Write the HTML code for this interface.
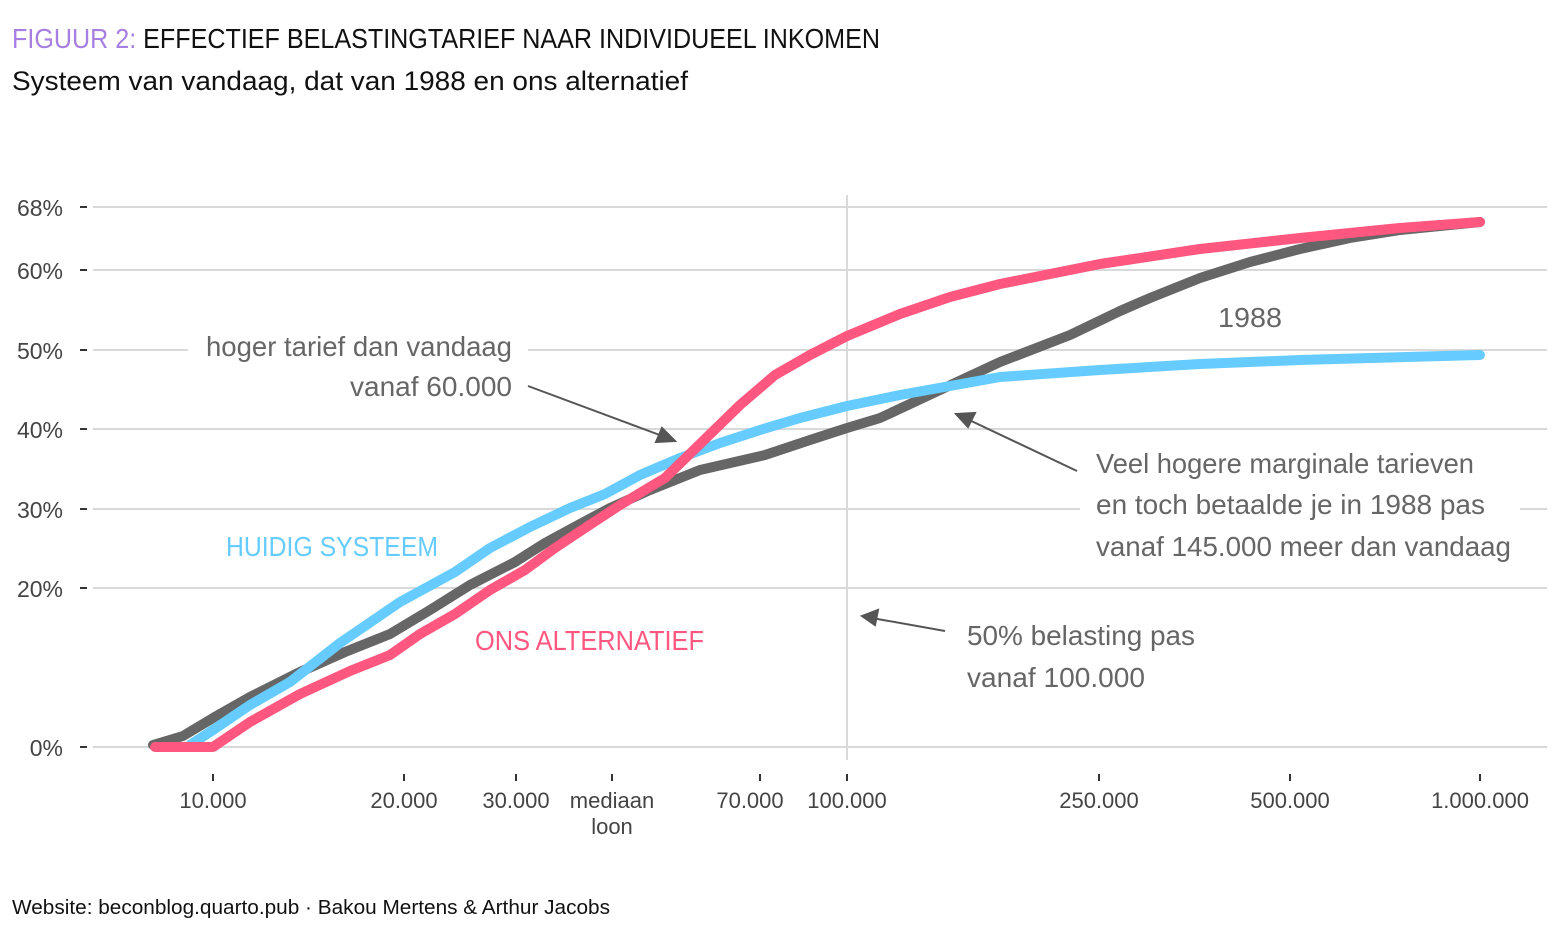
<!DOCTYPE html>
<html><head><meta charset="utf-8"><style>
body{margin:0;background:#fff;}
svg text{font-family:"Liberation Sans",sans-serif;}
</style></head><body>
<svg width="1559" height="937" viewBox="0 0 1559 937" xmlns="http://www.w3.org/2000/svg">
<rect width="1559" height="937" fill="#fff"/>
<text x="12" y="48" font-size="28" textLength="868" lengthAdjust="spacingAndGlyphs"><tspan fill="#a77fe0">FIGUUR 2:</tspan><tspan fill="#111"> EFFECTIEF BELASTINGTARIEF NAAR INDIVIDUEEL INKOMEN</tspan></text>
<text x="12" y="90" font-size="27" fill="#111" textLength="676" lengthAdjust="spacingAndGlyphs">Systeem van vandaag, dat van 1988 en ons alternatief</text>
<g stroke="#d9d9d9" stroke-width="2">
<line x1="93" y1="207" x2="1547" y2="207"/><line x1="93" y1="270" x2="1547" y2="270"/>
<line x1="93" y1="350" x2="1547" y2="350"/><line x1="93" y1="429" x2="1547" y2="429"/>
<line x1="93" y1="509" x2="1547" y2="509"/><line x1="93" y1="588" x2="1547" y2="588"/>
<line x1="93" y1="747" x2="1547" y2="747"/>
<line x1="847" y1="195" x2="847" y2="760"/>
</g>
<g stroke="#333" stroke-width="2">
<line x1="80" y1="207" x2="87" y2="207"/><line x1="80" y1="270" x2="87" y2="270"/>
<line x1="80" y1="350" x2="87" y2="350"/><line x1="80" y1="429" x2="87" y2="429"/>
<line x1="80" y1="509" x2="87" y2="509"/><line x1="80" y1="588" x2="87" y2="588"/>
<line x1="80" y1="747" x2="87" y2="747"/>
<line x1="213" y1="774" x2="213" y2="781"/><line x1="404" y1="774" x2="404" y2="781"/>
<line x1="516" y1="774" x2="516" y2="781"/><line x1="612" y1="774" x2="612" y2="781"/>
<line x1="760" y1="774" x2="760" y2="781"/><line x1="847" y1="774" x2="847" y2="781"/>
<line x1="1099" y1="774" x2="1099" y2="781"/><line x1="1290" y1="774" x2="1290" y2="781"/>
<line x1="1480" y1="774" x2="1480" y2="781"/>
</g>
<g font-size="23" fill="#444" text-anchor="end">
<text x="63" y="216">68%</text><text x="63" y="279">60%</text><text x="63" y="359">50%</text>
<text x="63" y="438">40%</text><text x="63" y="518">30%</text><text x="63" y="597">20%</text>
<text x="63" y="756">0%</text>
</g>
<g font-size="22" fill="#444" text-anchor="middle">
<text x="213" y="808">10.000</text><text x="404" y="808">20.000</text><text x="516" y="808">30.000</text>
<text x="612" y="808">mediaan</text><text x="612" y="834">loon</text>
<text x="750" y="808">70.000</text><text x="847" y="808">100.000</text>
<text x="1099" y="808">250.000</text><text x="1290" y="808">500.000</text><text x="1480" y="808">1.000.000</text>
</g>
<!-- annotation backgrounds -->
<rect x="188" y="330" width="340" height="75" fill="#fff"/>
<rect x="1080" y="440" width="440" height="125" fill="#fff"/>
<rect x="955" y="612" width="250" height="85" fill="#fff"/>
<g fill="none" stroke-linejoin="round" stroke-linecap="round" stroke-width="10">
<polyline stroke="#666" points="153,745 183,736 213,718 250,697 300,672 345,652 390,634 430,610 470,585 515,562 545,543 580,524 610,508 650,490 700,470 765,455 810,440 847,428 880,418 940,390 1000,362 1070,335 1120,311 1150,298 1200,278 1250,262 1300,249 1350,238 1400,230 1480,222"/>
<polyline stroke="#66ccff" points="190,745 213,730 250,705 290,682 340,643 400,602 455,572 490,548 530,527 570,508 605,494 640,475 680,458 720,443 760,430 800,418 847,406 900,395 950,386 1000,377 1100,370 1200,364 1300,360 1480,355"/>
<polyline stroke="#ff577f" points="155,747 213,747 250,722 300,694 350,671 390,655 420,634 455,614 490,590 525,570 555,548 585,528 620,505 665,478 700,444 740,405 775,375 810,355 847,336 900,314 950,297 1000,284 1100,264 1200,249 1300,238 1400,228 1480,222"/>
</g>
<g stroke="#555" stroke-width="2" fill="#555">
<line x1="528" y1="386" x2="665" y2="437"/><polygon points="675,441 656,442 662,428"/>
<line x1="1077" y1="471" x2="965" y2="418"/><polygon points="956,414 975,413 968,427"/>
<line x1="945" y1="631" x2="872" y2="618"/><polygon points="862,616 878,610 875,625"/>
</g>
<g font-size="28" fill="#666">
<text x="512" y="356" text-anchor="end" textLength="306" lengthAdjust="spacingAndGlyphs">hoger tarief dan vandaag</text>
<text x="512" y="396" text-anchor="end" textLength="162" lengthAdjust="spacingAndGlyphs">vanaf 60.000</text>
<text x="1096" y="473" textLength="378" lengthAdjust="spacingAndGlyphs">Veel hogere marginale tarieven</text>
<text x="1096" y="514" textLength="389" lengthAdjust="spacingAndGlyphs">en toch betaalde je in 1988 pas</text>
<text x="1096" y="556" textLength="415" lengthAdjust="spacingAndGlyphs">vanaf 145.000 meer dan vandaag</text>
<text x="967" y="645" textLength="228" lengthAdjust="spacingAndGlyphs">50% belasting pas</text>
<text x="967" y="687" textLength="178" lengthAdjust="spacingAndGlyphs">vanaf 100.000</text>
<text x="1218" y="327" textLength="64" lengthAdjust="spacingAndGlyphs">1988</text>
</g>
<text x="226" y="556" font-size="28" fill="#66ccff" textLength="212" lengthAdjust="spacingAndGlyphs">HUIDIG SYSTEEM</text>
<text x="475" y="650" font-size="28" fill="#ff577f" textLength="229" lengthAdjust="spacingAndGlyphs">ONS ALTERNATIEF</text>
<text x="12" y="914" font-size="20" fill="#111" textLength="598" lengthAdjust="spacingAndGlyphs">Website: beconblog.quarto.pub · Bakou Mertens &amp; Arthur Jacobs</text>
</svg>
</body></html>
